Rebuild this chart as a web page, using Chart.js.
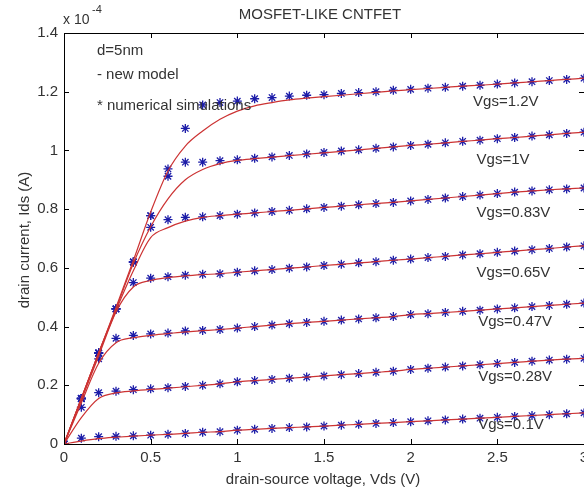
<!DOCTYPE html>
<html>
<head>
<meta charset="utf-8">
<script src="https://cdn.jsdelivr.net/npm/chart.js@4.4.1/dist/chart.umd.min.js"></script>
<style>
  html, body { margin: 0; padding: 0; background: #fff; overflow: hidden; }
  #wrap { width: 584px; height: 495px; overflow: hidden; }
</style>
</head>
<body>
<div id="wrap"><canvas id="grafico" width="600" height="495"></canvas></div>
<script>
// drain-source voltage (V)
const vds = [0, 0.1, 0.2, 0.3, 0.4, 0.5, 0.6, 0.7, 0.8, 0.9, 1.0,
  1.1, 1.2, 1.3, 1.4, 1.5, 1.6, 1.7, 1.8, 1.9, 2.0,
  2.1, 2.2, 2.3, 2.4, 2.5, 2.6, 2.7, 2.8, 2.9, 3.0];

// gate voltages (labels)
const vgsLabels = ["Vgs=1.2V", "Vgs=1V", "Vgs=0.83V", "Vgs=0.65V", "Vgs=0.47V", "Vgs=0.28V", "Vgs=0.1V"];

// numerical simulations (x 1e-4 A)
const sim12 = [0, 0.155, 0.31, 0.46, 0.62, 0.778, 0.937, 1.075, 1.155, 1.163, 1.168,
  1.176, 1.18, 1.185, 1.188, 1.19, 1.194, 1.197, 1.2, 1.205, 1.208,
  1.212, 1.215, 1.219, 1.222, 1.226, 1.23, 1.234, 1.238, 1.242, 1.246];
const sim1 = [0, 0.155, 0.31, 0.46, 0.62, 0.778, 0.912, 0.96, 0.96, 0.965, 0.968,
  0.973, 0.978, 0.983, 0.988, 0.993, 0.998, 1.002, 1.007, 1.012, 1.017,
  1.021, 1.026, 1.031, 1.035, 1.04, 1.044, 1.049, 1.053, 1.058, 1.062];
const sim083 = [0, 0.155, 0.31, 0.46, 0.62, 0.738, 0.764, 0.772, 0.774, 0.778, 0.783,
  0.787, 0.792, 0.796, 0.801, 0.806, 0.81, 0.815, 0.819, 0.823, 0.828,
  0.833, 0.838, 0.843, 0.848, 0.853, 0.858, 0.862, 0.866, 0.869, 0.872];
const sim065 = [0, 0.155, 0.31, 0.46, 0.55, 0.565, 0.57, 0.575, 0.578, 0.58, 0.585,
  0.59, 0.594, 0.599, 0.603, 0.608, 0.612, 0.617, 0.621, 0.626, 0.63,
  0.635, 0.639, 0.644, 0.648, 0.653, 0.657, 0.662, 0.666, 0.671, 0.675];
const sim047 = [0, 0.155, 0.29, 0.36, 0.37, 0.375, 0.378, 0.385, 0.387, 0.39, 0.395,
  0.4, 0.405, 0.41, 0.414, 0.418, 0.422, 0.426, 0.43, 0.434, 0.441,
  0.444, 0.448, 0.452, 0.456, 0.46, 0.464, 0.468, 0.472, 0.476, 0.48];
const sim028 = [0, 0.125, 0.175, 0.18, 0.185, 0.188, 0.192, 0.196, 0.2, 0.205, 0.212,
  0.216, 0.22, 0.224, 0.228, 0.232, 0.236, 0.24, 0.244, 0.248, 0.254,
  0.258, 0.262, 0.266, 0.27, 0.274, 0.278, 0.282, 0.286, 0.289, 0.292];
const sim01 = [0, 0.02, 0.025, 0.026, 0.028, 0.03, 0.033, 0.036, 0.04, 0.042, 0.047,
  0.05, 0.053, 0.056, 0.058, 0.061, 0.064, 0.067, 0.07, 0.073, 0.076,
  0.079, 0.082, 0.085, 0.088, 0.091, 0.094, 0.097, 0.1, 0.103, 0.106];

// new model (x 1e-4 A)
const mod12 = [0, 0.155, 0.31, 0.465, 0.625, 0.79, 0.93, 1.015, 1.066, 1.106, 1.134,
  1.152, 1.163, 1.172, 1.178, 1.183, 1.188, 1.193, 1.198, 1.203, 1.207,
  1.211, 1.215, 1.219, 1.222, 1.226, 1.23, 1.234, 1.238, 1.242, 1.246];
const mod1 = [0, 0.155, 0.31, 0.46, 0.615, 0.74, 0.835, 0.9, 0.935, 0.955, 0.966,
  0.972, 0.977, 0.982, 0.987, 0.992, 0.997, 1.002, 1.007, 1.012, 1.017,
  1.021, 1.026, 1.031, 1.035, 1.04, 1.044, 1.049, 1.053, 1.058, 1.062];
const mod083 = [0, 0.155, 0.31, 0.455, 0.59, 0.703, 0.737, 0.759, 0.772, 0.778, 0.783,
  0.787, 0.792, 0.796, 0.801, 0.806, 0.81, 0.815, 0.819, 0.823, 0.828,
  0.833, 0.838, 0.843, 0.848, 0.853, 0.858, 0.862, 0.866, 0.869, 0.872];
const mod065 = [0, 0.15, 0.3, 0.45, 0.535, 0.557, 0.567, 0.573, 0.577, 0.58, 0.585,
  0.59, 0.594, 0.599, 0.603, 0.608, 0.612, 0.617, 0.621, 0.626, 0.63,
  0.635, 0.639, 0.644, 0.648, 0.653, 0.657, 0.662, 0.666, 0.671, 0.675];
const mod047 = [0, 0.14, 0.275, 0.345, 0.362, 0.37, 0.376, 0.382, 0.386, 0.39, 0.395,
  0.4, 0.405, 0.41, 0.414, 0.418, 0.422, 0.426, 0.43, 0.434, 0.441,
  0.444, 0.448, 0.452, 0.456, 0.46, 0.464, 0.468, 0.472, 0.476, 0.48];
const mod028 = [0, 0.09, 0.155, 0.174, 0.181, 0.186, 0.19, 0.195, 0.2, 0.205, 0.212,
  0.216, 0.22, 0.224, 0.228, 0.232, 0.236, 0.24, 0.244, 0.248, 0.254,
  0.258, 0.262, 0.266, 0.27, 0.274, 0.278, 0.282, 0.286, 0.289, 0.292];
const mod01 = [0, 0.01, 0.018, 0.023, 0.027, 0.03, 0.033, 0.036, 0.04, 0.042, 0.047,
  0.05, 0.053, 0.056, 0.058, 0.061, 0.064, 0.067, 0.07, 0.073, 0.076,
  0.079, 0.082, 0.085, 0.088, 0.091, 0.094, 0.097, 0.1, 0.103, 0.106];

const simSeries = [sim12, sim1, sim083, sim065, sim047, sim028, sim01];
const modSeries = [mod12, mod1, mod083, mod065, mod047, mod028, mod01];

// label anchors, in data units (Vds, Ids)
const labelX = [2.36, 2.38, 2.38, 2.38, 2.39, 2.39, 2.39];
const labelY = [1.164, 0.968, 0.789, 0.584, 0.417, 0.229, 0.065];

const xTicks = [0, 0.5, 1, 1.5, 2, 2.5, 3];
const yTicks = [0, 0.2, 0.4, 0.6, 0.8, 1, 1.2, 1.4];

const toPts = arr => arr.map((v, i) => ({ x: vds[i], y: v }));

const FONT = "'Liberation Sans', Arial, sans-serif";
const TXT = "#333";

const datasets = [];
modSeries.forEach((s, i) => {
  datasets.push({
    label: "model " + vgsLabels[i],
    data: toPts(s),
    borderColor: "#cc3333",
    borderWidth: 1.2,
    pointRadius: 0,
    cubicInterpolationMode: "monotone",
    fill: false
  });
});
simSeries.forEach((s, i) => {
  datasets.push({
    label: "sim " + vgsLabels[i],
    data: toPts(s),
    showLine: false,
    pointStyle: "star",
    pointRadius: 4.5,
    borderColor: "#1c1ca8",
    backgroundColor: "#1c1ca8",
    pointBorderWidth: 1.3
  });
});

// moldura, ticks internos e textos no estilo matlab
const decor = {
  id: "decor",
  beforeDraw(chart) {
    const c = chart.ctx;
    c.save();
    c.fillStyle = "#fff";
    c.fillRect(0, 0, chart.width, chart.height);
    c.restore();
  },
  afterDraw(chart) {
    const c = chart.ctx;
    const a = chart.chartArea;
    const sx = chart.scales.x, sy = chart.scales.y;
    c.save();
    c.strokeStyle = "#000";
    c.lineWidth = 1;
    c.strokeRect(a.left + 0.5, a.top + 0.5, a.right - a.left, a.bottom - a.top);
    c.beginPath();
    yTicks.forEach(v => {
      const p = Math.round(sy.getPixelForValue(v)) + 0.5;
      c.moveTo(a.left, p); c.lineTo(a.left + 5, p);
      c.moveTo(a.right - 5, p); c.lineTo(a.right, p);
    });
    xTicks.forEach(v => {
      const p = Math.round(sx.getPixelForValue(v)) + 0.5;
      c.moveTo(p, a.bottom); c.lineTo(p, a.bottom - 5);
      c.moveTo(p, a.top); c.lineTo(p, a.top + 5);
    });
    c.stroke();

    c.fillStyle = TXT;
    c.font = "15px " + FONT;
    c.textBaseline = "middle";
    c.textAlign = "center";
    c.fillText("MOSFET-LIKE CNTFET", 320, 15);
    c.fillText("drain-source voltage, Vds (V)", 323, 480);

    c.save();
    c.translate(25, 240);
    c.rotate(-Math.PI / 2);
    c.fillText("drain current, Ids (A)", 0, 0);
    c.restore();

    c.textAlign = "left";
    c.font = "14px " + FONT;
    c.fillText("x 10", 63, 20);
    c.font = "11px " + FONT;
    c.fillText("-4", 92, 10);

    c.font = "15px " + FONT;
    const tx = sx.getPixelForValue(0.19);
    c.fillText("d=5nm", tx, sy.getPixelForValue(1.338));
    c.fillText("- new model", tx, sy.getPixelForValue(1.258));
    c.fillText("* numerical simulations", tx, sy.getPixelForValue(1.152));

    vgsLabels.forEach((t, i) => {
      c.fillText(t, sx.getPixelForValue(labelX[i]), sy.getPixelForValue(labelY[i]));
    });
    c.restore();
  }
};

new Chart(document.getElementById("grafico"), {
  type: "line",
  data: { datasets: datasets },
  options: {
    responsive: false,
    animation: false,
    layout: { padding: { left: 0, top: 33, right: 16, bottom: 0 } },
    plugins: { legend: { display: false }, tooltip: { enabled: false } },
    scales: {
      x: {
        type: "linear",
        min: 0,
        max: 3,
        afterFit: s => { s.height = 51; },
        afterBuildTicks: s => { s.ticks = xTicks.map(v => ({ value: v })); },
        grid: { display: false, drawTicks: false },
        border: { display: false },
        ticks: {
          padding: 5, color: TXT, font: { size: 15, family: FONT },
          callback: v => String(v)
        }
      },
      y: {
        type: "linear",
        min: 0,
        max: 1.4,
        afterFit: s => { s.width = 64; },
        afterBuildTicks: s => { s.ticks = yTicks.map(v => ({ value: v })); },
        grid: { display: false, drawTicks: false },
        border: { display: false },
        ticks: {
          padding: 6, color: TXT, font: { size: 15, family: FONT },
          callback: v => String(v)
        }
      }
    }
  },
  plugins: [decor]
});
</script>
</body>
</html>
